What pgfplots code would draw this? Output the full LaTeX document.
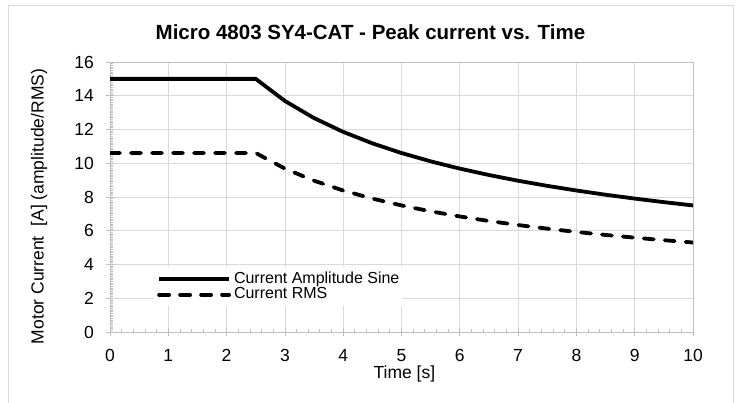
\documentclass[border=0pt]{standalone}
\usepackage{pgfplots}
\pgfplotsset{compat=1.18}
\usepackage{fontspec}
\setmainfont{Liberation Sans}
\definecolor{gridgray}{RGB}{217,217,217}
\definecolor{axgray}{RGB}{191,191,191}
\begin{document}
\begin{tikzpicture}
\path[use as bounding box] (0,0) rectangle (742bp,403bp);
\draw[gridgray, line width=0.8bp] (8bp,-5bp) rectangle (733bp,398bp);
\begin{axis}[
    at={(110bp,71bp)}, anchor=south west,
    scale only axis,
    width=583bp, height=270bp,
    xmin=0, xmax=10, ymin=0, ymax=16,
    xtick={0,1,...,10}, ytick={0,2,...,16},
    minor x tick num=4, minor y tick num=19,
    grid=major,
    major grid style={gridgray, line width=0.8bp},
    axis line style={axgray, line width=0.8bp},
    tick style={axgray, line width=0.8bp},
    major tick length=4bp, minor tick length=3bp,
    tick align=inside,
    xtick pos=bottom, ytick pos=left,
    extra x ticks={0,1,...,10}, extra x tick labels={},
    extra y ticks={0,2,...,16}, extra y tick labels={},
    extra tick style={tick align=outside, major tick length=4bp, grid=none},
    ticklabel style={font=\fontsize{17.5bp}{19bp}\selectfont, text=black, inner sep=0pt},
    /pgf/number format/assume math mode=true,
    xticklabel style={anchor=base, yshift=-29bp},
    yticklabel style={anchor=east, xshift=-16bp},
    title={\textbf{Micro 4803 SY4-CAT - Peak current vs. Time}},
    title style={font=\fontsize{20.5bp}{22bp}\selectfont,
        at={(rel axis cs:0.4468,1.0611)}, anchor=base, inner sep=0pt},
    xlabel={Time [s]},
    ylabel={Motor Current\ \ [A] (amplitude/RMS)},
    label style={font=\fontsize{17.5bp}{20bp}\selectfont, inner sep=0pt},
    xlabel style={at={(rel axis cs:0.505,-0.1704)}, anchor=base},
    ylabel style={at={(rel axis cs:-0.1218,0.465)}, anchor=center},
    legend style={at={(rel axis cs:0.0755,0.1667)}, anchor=west, draw=none, fill=white,
        font=\fontsize{16bp}{16bp}\selectfont, row sep=0pt, column sep=3bp,
        inner xsep=3bp, inner ysep=4bp,
        nodes={inner sep=0pt, text height=12bp, text depth=3.5bp}},
    legend cell align=left,
    legend image code/.code={\draw[#1] (0bp,0bp) -- (70bp,0bp);},
]
\addplot[black, line width=3.8bp] coordinates {
    (0,15) (2.5,15) (3,13.693) (3.5,12.677) (4,11.859) (4.5,11.180)
    (5,10.607) (5.5,10.113) (6,9.682) (6.5,9.303) (7,8.964) (7.5,8.660)
    (8,8.385) (8.5,8.135) (9,7.906) (9.5,7.695) (10,7.5)
};
\addlegendentry{Current Amplitude Sine}
\addplot[black, line width=3.8bp, line cap=round, dash pattern=on 10bp off 11bp] coordinates {
    (0,10.607) (2.5,10.607) (3,9.682) (3.5,8.964) (4,8.385) (4.5,7.906)
    (5,7.5) (5.5,7.151) (6,6.847) (6.5,6.578) (7,6.339) (7.5,6.124)
    (8,5.929) (8.5,5.752) (9,5.590) (9.5,5.441) (10,5.303)
};
\addlegendentry{Current RMS}
\end{axis}
\end{tikzpicture}
\end{document}
